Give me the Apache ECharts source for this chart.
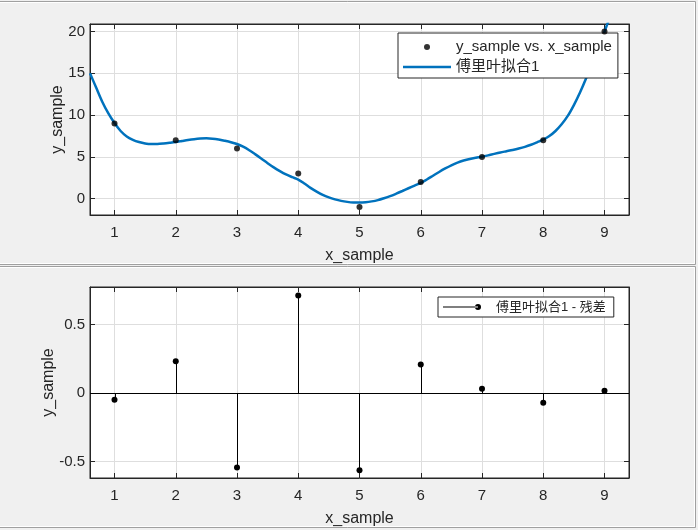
<!DOCTYPE html>
<html><head><meta charset="utf-8">
<script src="https://cdn.jsdelivr.net/npm/echarts@6/dist/echarts.min.js"></script>
<style>html,body{margin:0;padding:0;background:#f0f0f0;} #c{width:698px;height:530px;}</style>
</head><body><div id="c"></div>
<script>
// ---- data ----
const xSample = [1, 2, 3, 4, 5, 6, 7, 8, 9];
const ySample = [9, 7, 6, 3, -1, 2, 5, 7, 20];
const fitX = [0.6,0.7,0.8,0.9,1.0,1.1,1.2,1.3,1.4,1.5,1.6,1.7,1.8,1.9,2.0,2.1,2.2,2.3,2.4,2.5,2.6,2.7,2.8,2.9,
  3.0,3.1,3.2,3.3,3.4,3.5,3.6,3.7,3.8,3.9,4.0,4.1,4.2,4.3,4.4,4.5,4.6,4.7,4.8,4.9,5.0,5.1,5.2,5.3,5.4,5.5,
  5.6,5.7,5.8,5.9,6.0,6.1,6.2,6.3,6.4,6.5,6.6,6.7,6.8,6.9,7.0,7.1,7.2,7.3,7.4,7.5,7.6,7.7,7.8,7.9,8.0,8.1,
  8.2,8.3,8.4,8.5,8.6,8.7,8.8,8.9,9.0,9.1];
const fitY = [15.0,13.3,11.6,10.2,9.05,8.1,7.45,7.05,6.78,6.61,6.54,6.55,6.61,6.69,6.78,6.9,7.02,7.12,7.19,7.22,
  7.18,7.08,6.93,6.76,6.54,6.22,5.8,5.3,4.78,4.25,3.75,3.3,2.9,2.58,2.29,1.82,1.3,0.85,0.45,0.15,-0.08,-0.26,
  -0.38,-0.45,-0.46,-0.42,-0.32,-0.17,0.05,0.3,0.6,0.92,1.25,1.57,1.88,2.3,2.75,3.2,3.62,4.0,4.32,4.57,4.76,4.9,
  5.02,5.18,5.36,5.53,5.68,5.83,6.0,6.2,6.45,6.75,7.07,7.5,8.1,8.9,9.9,11.2,12.7,14.4,16.3,18.2,19.98,22.0];
const residuals = [-0.048, 0.233, -0.543, 0.713, -0.563, 0.209, 0.032, -0.07, 0.017];
const xRange = [0.6, 9.4];
const yRangeTop = [-1.95, 20.9];
const yRangeBottom = [-0.62, 0.775];
const nameScatter = 'y_sample vs. x_sample';
const nameFit = '傅里叶拟合1';
const nameResid = '傅里叶拟合1 - 残差';
const xName = 'x_sample';
const yName = 'y_sample';

// ---- styles ----
const FONT = "'Liberation Sans', Arial, 'Noto Sans CJK SC', sans-serif";
const TXT = '#262626';
const GRIDC = '#dedede';

function xAxes(gridIndex) {
  const base = {
    type: 'value', gridIndex: gridIndex, min: xRange[0], max: xRange[1], splitNumber: 8,
    axisLine: {show: true, onZero: false, lineStyle: {color: TXT, width: 1}},
    axisTick: {show: true, inside: true, length: 5, lineStyle: {color: TXT}},
  };
  return [
    Object.assign({}, base, {
      position: 'bottom',
      name: xName, nameLocation: 'middle', nameGap: 33, nameMoveOverlap: false,
      nameTextStyle: {fontFamily: FONT, fontSize: 16, color: TXT},
      axisLabel: {fontFamily: FONT, fontSize: 15, color: TXT, margin: 10, showMinLabel: false, showMaxLabel: false},
      splitLine: {show: true, lineStyle: {color: GRIDC, width: 1}}
    }),
    Object.assign({}, base, {position: 'top', axisLabel: {show: false}, splitLine: {show: false}})
  ];
}
function yAxes(gridIndex, range, split, gap) {
  const base = {
    type: 'value', gridIndex: gridIndex, min: range[0], max: range[1], splitNumber: split,
    axisLine: {show: true, onZero: false, lineStyle: {color: TXT, width: 1}},
    axisTick: {show: true, inside: true, length: 5, lineStyle: {color: TXT}},
  };
  return [
    Object.assign({}, base, {
      position: 'left',
      name: yName, nameLocation: 'middle', nameGap: gap, nameMoveOverlap: false,
      nameTextStyle: {fontFamily: FONT, fontSize: 16, color: TXT},
      axisLabel: {fontFamily: FONT, fontSize: 15, color: TXT, margin: 5, showMinLabel: false, showMaxLabel: false},
      splitLine: {show: true, lineStyle: {color: GRIDC, width: 1}}
    }),
    Object.assign({}, base, {position: 'right', axisLabel: {show: false}, splitLine: {show: false}})
  ];
}

const chart = echarts.init(document.getElementById('c'), null, {renderer: 'canvas'});
const legendText = {fontFamily: FONT, fontSize: 15, color: TXT, lineHeight: 20};
const legendText2 = {fontFamily: FONT, fontSize: 13, color: TXT, lineHeight: 20};

chart.setOption({
  backgroundColor: '#f0f0f0',
  animation: false,
  graphic: [
    {type: 'rect', silent: true, z: -10, shape: {x: -2.5, y: 1.5, width: 698, height: 263}, style: {fill: null, stroke: '#a0a0a0', lineWidth: 1}},
    {type: 'rect', silent: true, z: -10, shape: {x: -2.5, y: 2.5, width: 697, height: 261}, style: {fill: null, stroke: '#ffffff', lineWidth: 1}},
    {type: 'rect', silent: true, z: -10, shape: {x: -2.5, y: 266.5, width: 698, height: 261}, style: {fill: null, stroke: '#a0a0a0', lineWidth: 1}},
    {type: 'rect', silent: true, z: -10, shape: {x: -2.5, y: 267.5, width: 697, height: 259}, style: {fill: null, stroke: '#ffffff', lineWidth: 1}}
  ],
  grid: [
    {left: 90, top: 24, width: 539, height: 191, show: true, backgroundColor: '#ffffff', borderColor: TXT, borderWidth: 1},
    {left: 90, top: 287, width: 539, height: 191, show: true, backgroundColor: '#ffffff', borderColor: TXT, borderWidth: 1}
  ],
  xAxis: xAxes(0).concat(xAxes(1)),
  yAxis: yAxes(0, yRangeTop, 5, 24).concat(yAxes(1, yRangeBottom, 3, 33)),
  legend: [
    {
      orient: 'vertical', left: 398, top: 33,
      padding: [4, 6, 1, 5], itemGap: 0, itemWidth: 48, itemHeight: 6,
      backgroundColor: '#ffffff', borderColor: TXT, borderWidth: 1, borderRadius: 0,
      textStyle: legendText,
      data: [
        {name: nameScatter, icon: 'circle'},
        {name: nameFit, icon: 'path://M0,0M48,6M0,1.75L48,1.75L48,4.25L0,4.25Z'}
      ]
    },
    {
      orient: 'vertical', left: 438, top: 297,
      padding: [0, 8, 0, 5], itemGap: 0, itemWidth: 48, itemHeight: 6,
      backgroundColor: '#ffffff', borderColor: TXT, borderWidth: 1, borderRadius: 0,
      textStyle: legendText2,
      data: [
        {name: nameResid, icon: 'path://M0,0M48,6M0,2.5L35,2.5L35,3.5L0,3.5ZM38,3A3,3 0 1,0 32,3A3,3 0 1,0 38,3Z'}
      ]
    }
  ],
  series: [
    {
      name: nameFit, type: 'line', xAxisIndex: 0, yAxisIndex: 0,
      data: fitX.map((x, i) => [x, fitY[i]]),
      symbol: 'none', smooth: 0.3, clip: true,
      lineStyle: {color: '#0072BD', width: 2.5},
      itemStyle: {color: '#0072BD'}, z: 3
    },
    {
      name: nameScatter, type: 'scatter', xAxisIndex: 0, yAxisIndex: 0,
      data: xSample.map((x, i) => [x, ySample[i]]),
      symbol: 'circle', symbolSize: 6,
      itemStyle: {color: '#000000'}, z: 4
    },
    {
      name: nameResid, type: 'custom', xAxisIndex: 2, yAxisIndex: 2,
      data: xSample.map((x, i) => [x, residuals[i]]),
      itemStyle: {color: '#000000'},
      renderItem: function (params, api) {
        const x = api.value(0), y = api.value(1);
        const p0 = api.coord([x, 0]);
        const p1 = api.coord([x, y]);
        return {
          type: 'group',
          children: [
            {type: 'line', shape: {x1: Math.round(p0[0]) + 0.5, y1: p0[1], x2: Math.round(p1[0]) + 0.5, y2: p1[1]}, style: {stroke: '#000', lineWidth: 1}},
            {type: 'circle', shape: {cx: p1[0], cy: p1[1], r: 3}, style: {fill: '#000'}}
          ]
        };
      },
      markLine: {
        silent: true, symbol: 'none', label: {show: false},
        lineStyle: {color: '#000', width: 1, type: 'solid'},
        data: [{yAxis: 0}]
      },
      z: 4
    }
  ]
});
</script></body></html>
